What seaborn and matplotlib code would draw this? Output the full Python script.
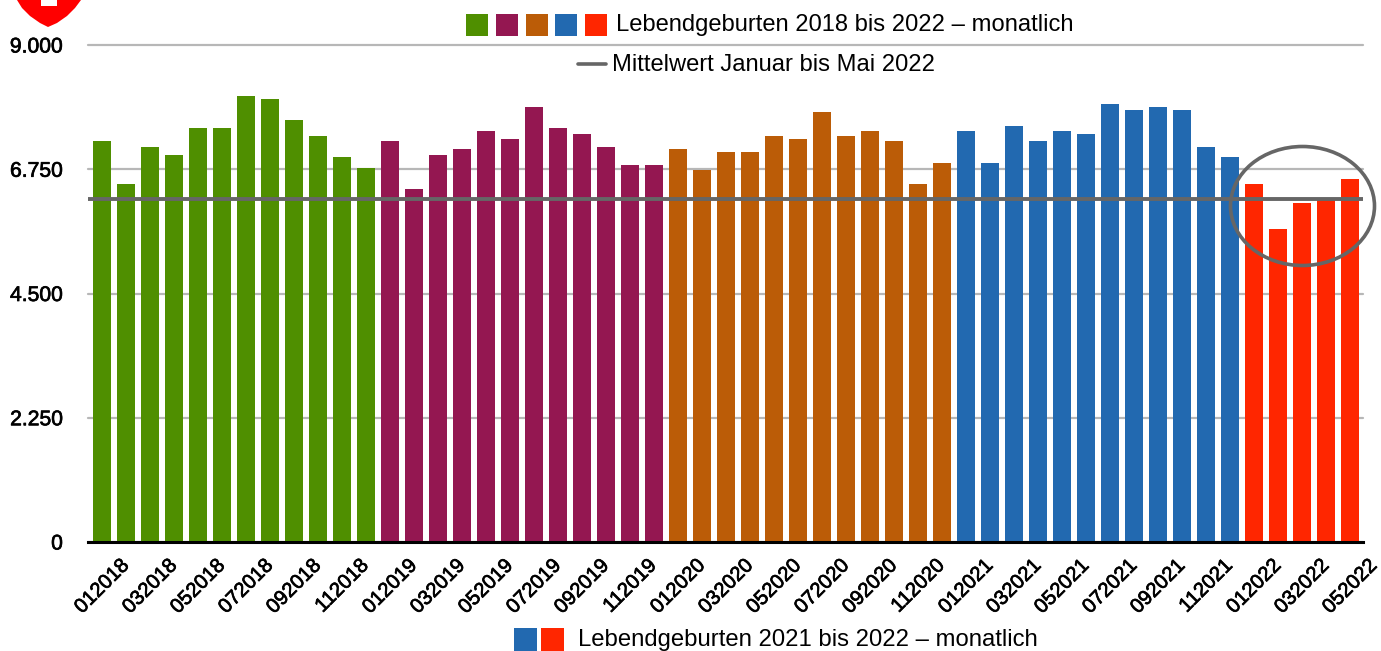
import numpy as np
import pandas as pd
import matplotlib
matplotlib.use('Agg')
import matplotlib.pyplot as plt
import matplotlib.patheffects as pe
import seaborn as sns
from matplotlib.patches import Ellipse, Polygon, Rectangle
from matplotlib.lines import Line2D

# ---- data ----
values_2018 = [7261, 6483, 7153, 7008, 7497, 7497, 8076, 8022, 7642, 7352, 6972, 6773]
values_2019 = [7261, 6392, 7008, 7117, 7442, 7298, 7877, 7497, 7388, 7153, 6827, 6827]
values_2020 = [7117, 6736, 7062, 7062, 7352, 7298, 7787, 7352, 7442, 7261, 6483, 6863]
values_2021 = [7442, 6863, 7533, 7261, 7442, 7388, 7932, 7823, 7877, 7823, 7153, 6972]
values_2022 = [6483, 5668, 6139, 6193, 6573]
mittelwert = 6211

years = ['2018', '2019', '2020', '2021', '2022']
colors = ['#4f8f00', '#941751', '#bb5c07', '#2269b0', '#ff2600']
y_ticks = [0, 2250, 4500, 6750, 9000]
y_labels = ['0', '2.250', '4.500', '6.750', '9.000']

legend_top = 'Lebendgeburten 2018 bis 2022 – monatlich'
legend_mean = 'Mittelwert Januar bis Mai 2022'
legend_bottom = 'Lebendgeburten 2021 bis 2022 – monatlich'

# ---- table for seaborn ----
rows = []
for year, vals in zip(years, [values_2018, values_2019, values_2020, values_2021, values_2022]):
    for m, v in enumerate(vals):
        rows.append({'monat': f'{m + 1:02d}{year}', 'jahr': year, 'wert': v})
df = pd.DataFrame(rows)

W, H = 1381, 651

def fx(x):
    return x / W

def fy(y):
    return 1 - y / H

sns.set_style('white')
plt.rcParams['font.family'] = ['Liberation Sans', 'DejaVu Sans']

fig = plt.figure(figsize=(W / 100, H / 100), dpi=100)
ax = fig.add_axes([fx(88), fy(542), (1363 - 88) / W, (542 - 45) / H])

sns.barplot(data=df, x='monat', y='wert', hue='jahr', palette=colors, dodge=False,
            width=0.74, saturation=1, linewidth=0, legend=False, ax=ax)

ax.set_xlim(-0.583, 52.54)
ax.set_ylim(0, 9000)
ax.set_xlabel('')
ax.set_ylabel('')

ax.set_axisbelow(True)
ax.yaxis.grid(True, color='#b7b7b7', linewidth=1.6, clip_on=False)
ax.xaxis.grid(False)
for s in ['top', 'left', 'right']:
    ax.spines[s].set_visible(False)
ax.spines['bottom'].set_color('black')
ax.spines['bottom'].set_linewidth(2.2)

# labels in the original are a little heavier than plain Liberation
heavy = [pe.withStroke(linewidth=0.5, foreground='black')]

ax.set_yticks(y_ticks)
ax.set_yticklabels(y_labels, fontsize=15.2, color='black', path_effects=heavy)
ax.tick_params(axis='y', length=0, pad=18)

tick_pos = list(range(0, len(df), 2))
ax.set_xticks(tick_pos)
ax.set_xticklabels(df['monat'].iloc[tick_pos], rotation=45, ha='center', fontsize=14.6,
                   color='black', path_effects=heavy)
ax.tick_params(axis='x', length=0, pad=10)

ax.axhline(mittelwert, color='#666666', linewidth=2.8, zorder=5)

# ---- legends, placed by hand like in the original ----
swatches_top = [466, 496, 526, 555, 585]
for x0, c in zip(swatches_top, colors):
    fig.add_artist(Rectangle((fx(x0), fy(36)), 22 / W, 22 / H, transform=fig.transFigure,
                             facecolor=c, edgecolor='none'))
fig.text(fx(616), fy(25), legend_top, fontsize=17.15, color='black', va='center', ha='left')

fig.add_artist(Line2D([fx(578), fx(606)], [fy(64), fy(64)], transform=fig.transFigure,
                      color='#666666', linewidth=2.6))
fig.text(fx(612), fy(65), legend_mean, fontsize=17.15, color='black', va='center', ha='left')

for x0, c in zip([514, 541], colors[3:]):
    fig.add_artist(Rectangle((fx(x0), fy(651)), 23 / W, 23 / H, transform=fig.transFigure,
                             facecolor=c, edgecolor='none'))
fig.text(fx(578), fy(640), legend_bottom, fontsize=17.2, color='black', va='center', ha='left')

# ---- circle around 2022 ----
fig.add_artist(Ellipse((fx(1302.5), fy(206)), 144 / W, 119 / H, transform=fig.transFigure,
                       facecolor='none', edgecolor='#666666', linewidth=2.6))

# ---- cut off logo top left ----
shield = [(17, 0), (22, 8), (30, 16), (40, 23), (48, 27), (57, 23), (67, 16), (75, 8), (81, 0)]
fig.add_artist(Polygon([(fx(x), fy(y)) for x, y in shield], closed=True, transform=fig.transFigure,
                       facecolor='#ff0000', edgecolor='none'))
fig.add_artist(Rectangle((fx(41), fy(6)), 16 / W, 6 / H, transform=fig.transFigure,
                         facecolor='white', edgecolor='none'))

fig.savefig('out.png', dpi=100)
